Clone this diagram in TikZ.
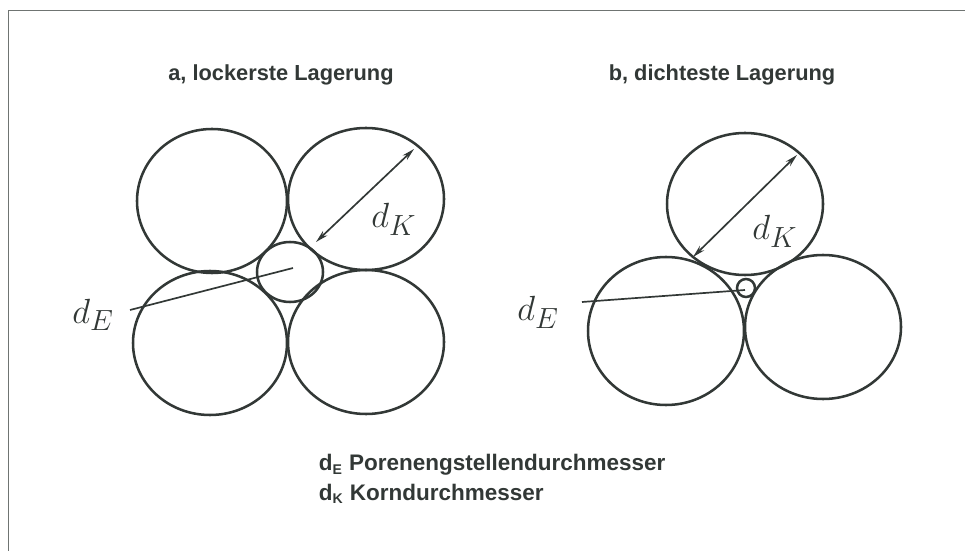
\documentclass[tikz,border=0pt]{standalone}
\usepackage{fontspec}
\setmainfont{Liberation Sans}
\usetikzlibrary{arrows.meta}
\definecolor{ink}{RGB}{50,56,54}
\tikzset{
  grain/.style={line width=1.8pt, draw=ink},
  dim/.style={line width=1.2pt, draw=ink, >={Stealth[length=9pt, width=4.5pt]}},
  head/.style={font=\bfseries\fontsize{15.5}{18}\selectfont, text=ink},
  sym/.style={font=\fontsize{31}{34}\selectfont, text=ink, anchor=base west, inner sep=0pt},
  legend/.style={font=\bfseries\fontsize{16}{18}\selectfont, text=ink, anchor=west}
}
\begin{document}
\begin{tikzpicture}[x=0.25mm, y=-0.25mm]
    \useasboundingbox (0,0) rectangle (965,551);
    % Rahmen
    \draw[line width=0.7pt, ink!70] (8,551) -- (8,10) -- (965,10);
    % Überschriften
    \node[head] (ta) at (281,75) {a, lockerste Lagerung};
    \node[head] (tb) at (722,75) {b, dichteste Lagerung};
    % a: lockerste Lagerung
    \draw[grain] (212,201) ellipse (75 and 72);
    \draw[grain] (366,199) ellipse (78 and 71);
    \draw[grain] (210,343) ellipse (77 and 72);
    \draw[grain] (366,342) ellipse (78 and 72);
    \draw[grain] (290,272) ellipse (33 and 30);
    \coordinate (ka1) at (316,242);
    \coordinate (ka2) at (414,149);
    \draw[dim, <->] (ka1) -- (ka2);
    \node[sym] (dka) at (371,228) {$d_K$};
    \coordinate (ea1) at (130,310);
    \coordinate (ea2) at (293,268);
    \draw[dim] (ea1) -- (ea2);
    \node[sym] (dea) at (72,323) {$d_E$};
    % b: dichteste Lagerung
    \draw[grain] (745,204) ellipse (78 and 71);
    \draw[grain] (666,331) ellipse (78 and 74);
    \draw[grain] (823,327) ellipse (78 and 72);
    \draw[grain] (746,288) circle (9);
    \coordinate (kb1) at (693,257);
    \coordinate (kb2) at (797,155);
    \draw[dim, <->] (kb1) -- (kb2);
    \node[sym] (dkb) at (752,240) {$d_K$};
    \coordinate (eb1) at (582,302);
    \coordinate (eb2) at (745,290);
    \draw[dim] (eb1) -- (eb2);
    \node[sym] (deb) at (517,321) {$d_E$};
    % Legende
    \node[legend] (le) at (314,465) {d\textsubscript{\fontsize{10}{10}\selectfont E} Porenengstellendurchmesser};
    \node[legend] (lk) at (314,494) {d\textsubscript{\fontsize{10}{10}\selectfont K} Korndurchmesser};
\end{tikzpicture}
\end{document}
